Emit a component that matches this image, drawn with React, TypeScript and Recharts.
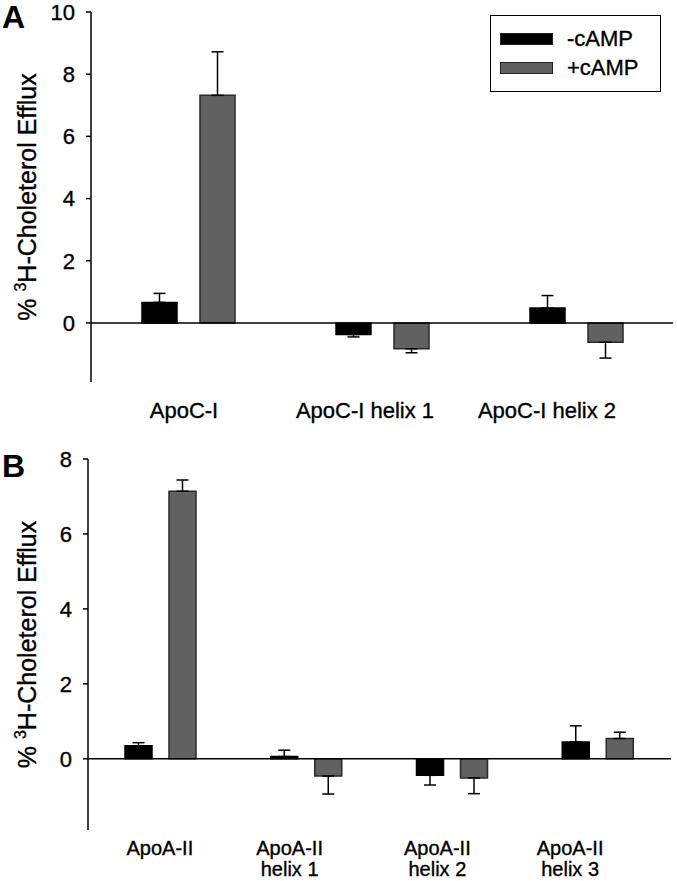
import { Bar, BarChart, ErrorBar, Legend, ReferenceLine, XAxis, YAxis } from "recharts"

const FONT = "'Liberation Sans', Arial, Helvetica, sans-serif"

const seriesNames = ['-cAMP', '+cAMP']
const seriesColors = ['#000000', '#616161']

// panel A
const categoriesA = ['ApoC-I', 'ApoC-I helix 1', 'ApoC-I helix 2']
const minusA = [0.66, -0.37, 0.48]
const minusErrA = [0.29, 0.08, 0.4]
const plusA = [7.32, -0.83, -0.62]
const plusErrA = [1.4, 0.13, 0.51]
const ticksA = [0, 2, 4, 6, 8, 10]

// panel B
const categoriesB = ['ApoA-II', 'ApoA-II\nhelix 1', 'ApoA-II\nhelix 2', 'ApoA-II\nhelix 3']
const minusB = [0.35, 0.06, -0.44, 0.45]
const minusErrB = [0.08, 0.17, 0.26, 0.43]
const plusB = [7.14, -0.46, -0.51, 0.54]
const plusErrB = [0.3, 0.48, 0.42, 0.17]
const ticksB = [0, 2, 4, 6, 8]

// labels in the original sit a bit left of their groups
const nudgeA = [-4, -17, -29]
const nudgeB = [-1, -17, -15, -28]

// one-sided error: up for positive bars, down for negative ones
const oneSided = (v: number, e: number) => (v >= 0 ? [0, e] : [e, 0])

const buildRows = (cats: string[], minus: number[], minusErr: number[], plus: number[], plusErr: number[]) =>
  cats.map((name, i) => ({
    name,
    minus: minus[i],
    minusErr: oneSided(minus[i], minusErr[i]),
    plus: plus[i],
    plusErr: oneSided(plus[i], plusErr[i]),
  }))

const rowsA = buildRows(categoriesA, minusA, minusErrA, plusA, plusErrA)
const rowsB = buildRows(categoriesB, minusB, minusErrB, plusB, plusErrB)

function CategoryTick(props: any) {
  const { x, y, payload, index, nudges, firstLine, lineStep, size } = props
  const lines = String(payload.value).split('\n')
  const cx = x + (nudges[index] || 0)
  return (
    <text x={cx} y={y} textAnchor="middle" fontFamily={FONT} fontSize={size} fill="#000" stroke="#000" strokeWidth={0.35}>
      {lines.map((l: string, i: number) => (
        <tspan key={i} x={cx} y={y + firstLine + i * lineStep}>{l}</tspan>
      ))}
    </text>
  )
}

function YLabel(props: any) {
  const { viewBox } = props
  const cx = 36
  const cy = viewBox.y + viewBox.height / 2
  return (
    <text x={cx} y={cy} transform={`rotate(-90, ${cx}, ${cy})`} textAnchor="middle" fontFamily={FONT} fontSize={25} fill="#000" stroke="#000" strokeWidth={0.35}>
      {'% '}
      <tspan fontSize={16} dy={-10}>3</tspan>
      <tspan dy={10}>H-Choleterol Efflux</tspan>
    </text>
  )
}

function LegendBox(props: any) {
  const items = [...(props.payload || [])].sort(
    (a: any, b: any) => seriesNames.indexOf(a.value) - seriesNames.indexOf(b.value)
  )
  return (
    <div style={{ width: 171, height: 77, boxSizing: 'border-box', border: '1.5px solid #000', background: '#fff', position: 'relative', fontFamily: FONT, fontSize: 22 }}>
      {items.map((p: any, i: number) => (
        <div key={i} style={{ position: 'absolute', left: 9, top: 16.5 + i * 29, height: 12, display: 'flex', alignItems: 'center' }}>
          <span style={{ display: 'inline-block', width: 53, height: 12, boxSizing: 'border-box', background: p.color, border: '1px solid #222' }} />
          <span style={{ marginLeft: 14, fontSize: 22, color: '#000', lineHeight: '12px', WebkitTextStroke: '0.35px #000' }}>{p.value}</span>
        </div>
      ))}
    </div>
  )
}

const axisTick = { fill: '#000', fontSize: 22, fontFamily: FONT, stroke: '#000', strokeWidth: 0.35 }

function Panel({ rows, ticks, top, height, yWidth, right, xHeight, barSize, barGap, nudges, firstLine, lineStep, labelSize, domain, legend }: any) {
  return (
    <BarChart
      width={677}
      height={height}
      data={rows}
      margin={{ top, right, bottom: 0, left: 0 }}
      barGap={barGap}
    >
      <XAxis
        dataKey="name"
        height={xHeight}
        axisLine={false}
        tickLine={false}
        tickSize={0}
        tickMargin={0}
        interval={0}
        tick={(p: any) => <CategoryTick {...p} nudges={nudges} firstLine={firstLine} lineStep={lineStep} size={labelSize} />}
      />
      <YAxis
        type="number"
        width={yWidth}
        domain={domain}
        ticks={ticks}
        interval={0}
        tickSize={5}
        tickMargin={11}
        axisLine={{ stroke: '#000', strokeWidth: 1.5 }}
        tickLine={{ stroke: '#000', strokeWidth: 1.5 }}
        tick={axisTick}
        label={{ content: YLabel }}
      />
      {legend && (
        <Legend
          layout="vertical"
          align="center"
          verticalAlign="middle"
          itemSorter={null}
          wrapperStyle={{ top: 15, left: 490, width: 171, height: 77 }}
          content={LegendBox}
        />
      )}
      <Bar name={seriesNames[0]} dataKey="minus" fill={seriesColors[0]} stroke="#000" strokeWidth={1.5} barSize={barSize} isAnimationActive={false}>
        <ErrorBar dataKey="minusErr" direction="y" width={6} stroke="#000" strokeWidth={1.5} isAnimationActive={false} />
      </Bar>
      <Bar name={seriesNames[1]} dataKey="plus" fill={seriesColors[1]} stroke="#2a2a2a" strokeWidth={1.5} barSize={barSize} isAnimationActive={false}>
        <ErrorBar dataKey="plusErr" direction="y" width={6} stroke="#000" strokeWidth={1.5} isAnimationActive={false} />
      </Bar>
      <ReferenceLine y={0} stroke="#000" strokeWidth={1.5} />
    </BarChart>
  )
}

const letterStyle = { position: 'absolute' as const, left: 2, fontFamily: FONT, fontWeight: 700, fontSize: 32, lineHeight: '32px', color: '#000' }

export default function App() {
  return (
    <div style={{ position: 'absolute', left: 0, top: 0, width: 677, height: 881, background: '#fff' }}>
      <div style={{ position: 'absolute', left: 0, top: 0 }}>
        <Panel rows={rowsA} ticks={ticksA} top={12} height={440} yWidth={91} right={4} xHeight={58}
          barSize={35} barGap={23} nudges={nudgeA} firstLine={36} lineStep={21} labelSize={22} domain={[-1.9, 10]} legend />
      </div>
      <div style={{ position: 'absolute', left: 0, top: 440 }}>
        <Panel rows={rowsB} ticks={ticksB} top={19} height={441} yWidth={88} right={6} xHeight={51}
          barSize={27} barGap={17} nudges={nudgeB} firstLine={25} lineStep={21} labelSize={20} domain={[-1.9, 8]} />
      </div>
      <div style={{ ...letterStyle, top: 1 }}>A</div>
      <div style={{ ...letterStyle, top: 450 }}>B</div>
    </div>
  )
}
